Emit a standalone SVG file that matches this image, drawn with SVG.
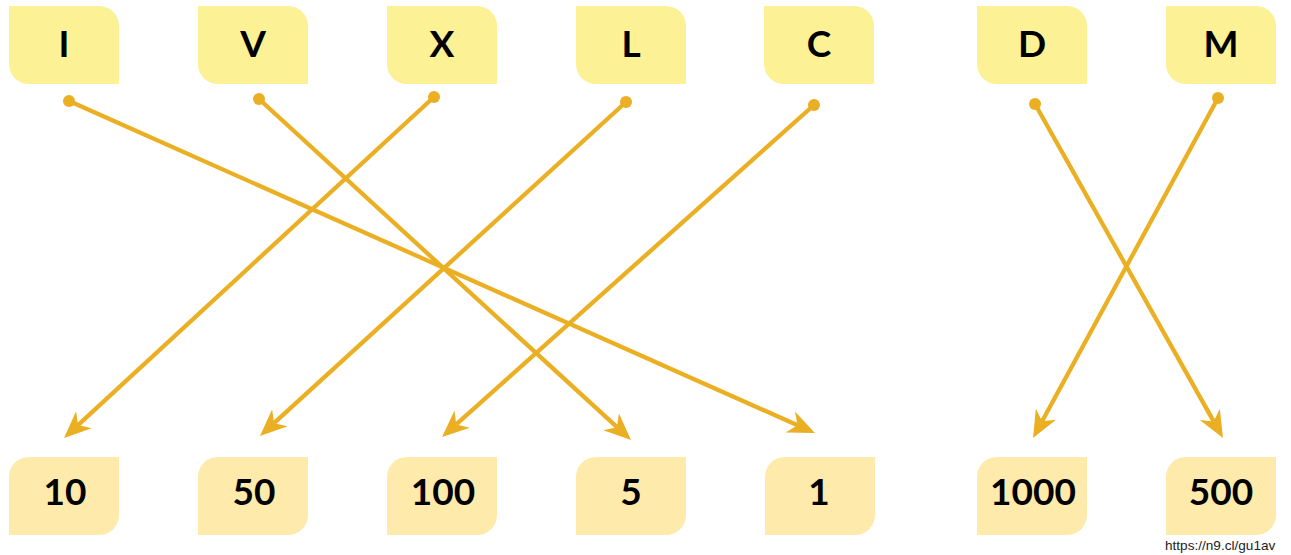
<svg xmlns="http://www.w3.org/2000/svg" width="1291" height="555" viewBox="0 0 1291 555">
<style>
.top{fill:#FCF195}
.bot{fill:#FEEAAA}
.lbl{font-family:Lato,"Open Sans","Liberation Sans",sans-serif;font-weight:bold;font-size:37px;fill:#000;text-anchor:middle}
.con{stroke:#EAAF22;stroke-width:4.3;fill:none}
.dot{fill:#EAAF22}
.url{font-family:"Liberation Sans",Arial,sans-serif;font-size:13.6px;fill:#222}
</style>
<defs>
<marker id="ah" markerUnits="userSpaceOnUse" viewBox="0 0 27 24" markerWidth="27" markerHeight="24" refX="8" refY="12" orient="auto">
<path d="M27,12 L0,0.5 L8,12 L0,23.5 Z" fill="#EAAF22"/>
</marker>
<path id="tb" d="M0,0 H90 A20,20 0 0 1 110,20 V78 H20 A20,20 0 0 1 0,58 Z"/>
<path id="bb" d="M20,0 H110 V58 A20,20 0 0 1 90,78 H0 V20 A20,20 0 0 1 20,0 Z"/>
</defs>
<g id="connectors">
<line class="con" x1="69" y1="101" x2="797.6" y2="425.3" marker-end="url(#ah)"/>
<line class="con" x1="259" y1="99" x2="617" y2="427.2" marker-end="url(#ah)"/>
<line class="con" x1="434" y1="97" x2="78" y2="425.1" marker-end="url(#ah)"/>
<line class="con" x1="626" y1="102" x2="274" y2="423.2" marker-end="url(#ah)"/>
<line class="con" x1="814" y1="105" x2="456.2" y2="424.4" marker-end="url(#ah)"/>
<line class="con" x1="1035" y1="104" x2="1213.7" y2="421.4" marker-end="url(#ah)"/>
<line class="con" x1="1218" y1="98" x2="1042.1" y2="421.3" marker-end="url(#ah)"/>
<circle class="dot" cx="69" cy="101" r="6"/>
<circle class="dot" cx="259" cy="99" r="6"/>
<circle class="dot" cx="434" cy="97" r="6"/>
<circle class="dot" cx="626" cy="102" r="6"/>
<circle class="dot" cx="814" cy="105" r="6"/>
<circle class="dot" cx="1035" cy="104" r="6"/>
<circle class="dot" cx="1218" cy="98" r="6"/>
</g>
<g id="n-I"><use href="#tb" class="top" x="9" y="6"/><text class="lbl" x="64" y="57">I</text></g>
<g id="n-V"><use href="#tb" class="top" x="198" y="6"/><text class="lbl" x="253" y="57">V</text></g>
<g id="n-X"><use href="#tb" class="top" x="387" y="6"/><text class="lbl" x="442" y="57">X</text></g>
<g id="n-L"><use href="#tb" class="top" x="576" y="6"/><text class="lbl" x="631" y="57">L</text></g>
<g id="n-C"><use href="#tb" class="top" x="764" y="6"/><text class="lbl" x="819" y="57">C</text></g>
<g id="n-D"><use href="#tb" class="top" x="977" y="6"/><text class="lbl" x="1032" y="57">D</text></g>
<g id="n-M"><use href="#tb" class="top" x="1166" y="6"/><text class="lbl" x="1221" y="57">M</text></g>
<g id="n-10"><use href="#bb" class="bot" x="9" y="457"/><text class="lbl" x="65" y="505">10</text></g>
<g id="n-50"><use href="#bb" class="bot" x="198" y="457"/><text class="lbl" x="254" y="505">50</text></g>
<g id="n-100"><use href="#bb" class="bot" x="387" y="457"/><text class="lbl" x="443" y="505">100</text></g>
<g id="n-5"><use href="#bb" class="bot" x="576" y="457"/><text class="lbl" x="631" y="505">5</text></g>
<g id="n-1"><use href="#bb" class="bot" x="765" y="457"/><text class="lbl" x="819" y="505">1</text></g>
<g id="n-1000"><use href="#bb" class="bot" x="977" y="457"/><text class="lbl" x="1033" y="505">1000</text></g>
<g id="n-500"><use href="#bb" class="bot" x="1166" y="457"/><text class="lbl" x="1221" y="505">500</text></g>
<text class="url" x="1165" y="550">https://n9.cl/gu1av</text>
</svg>
